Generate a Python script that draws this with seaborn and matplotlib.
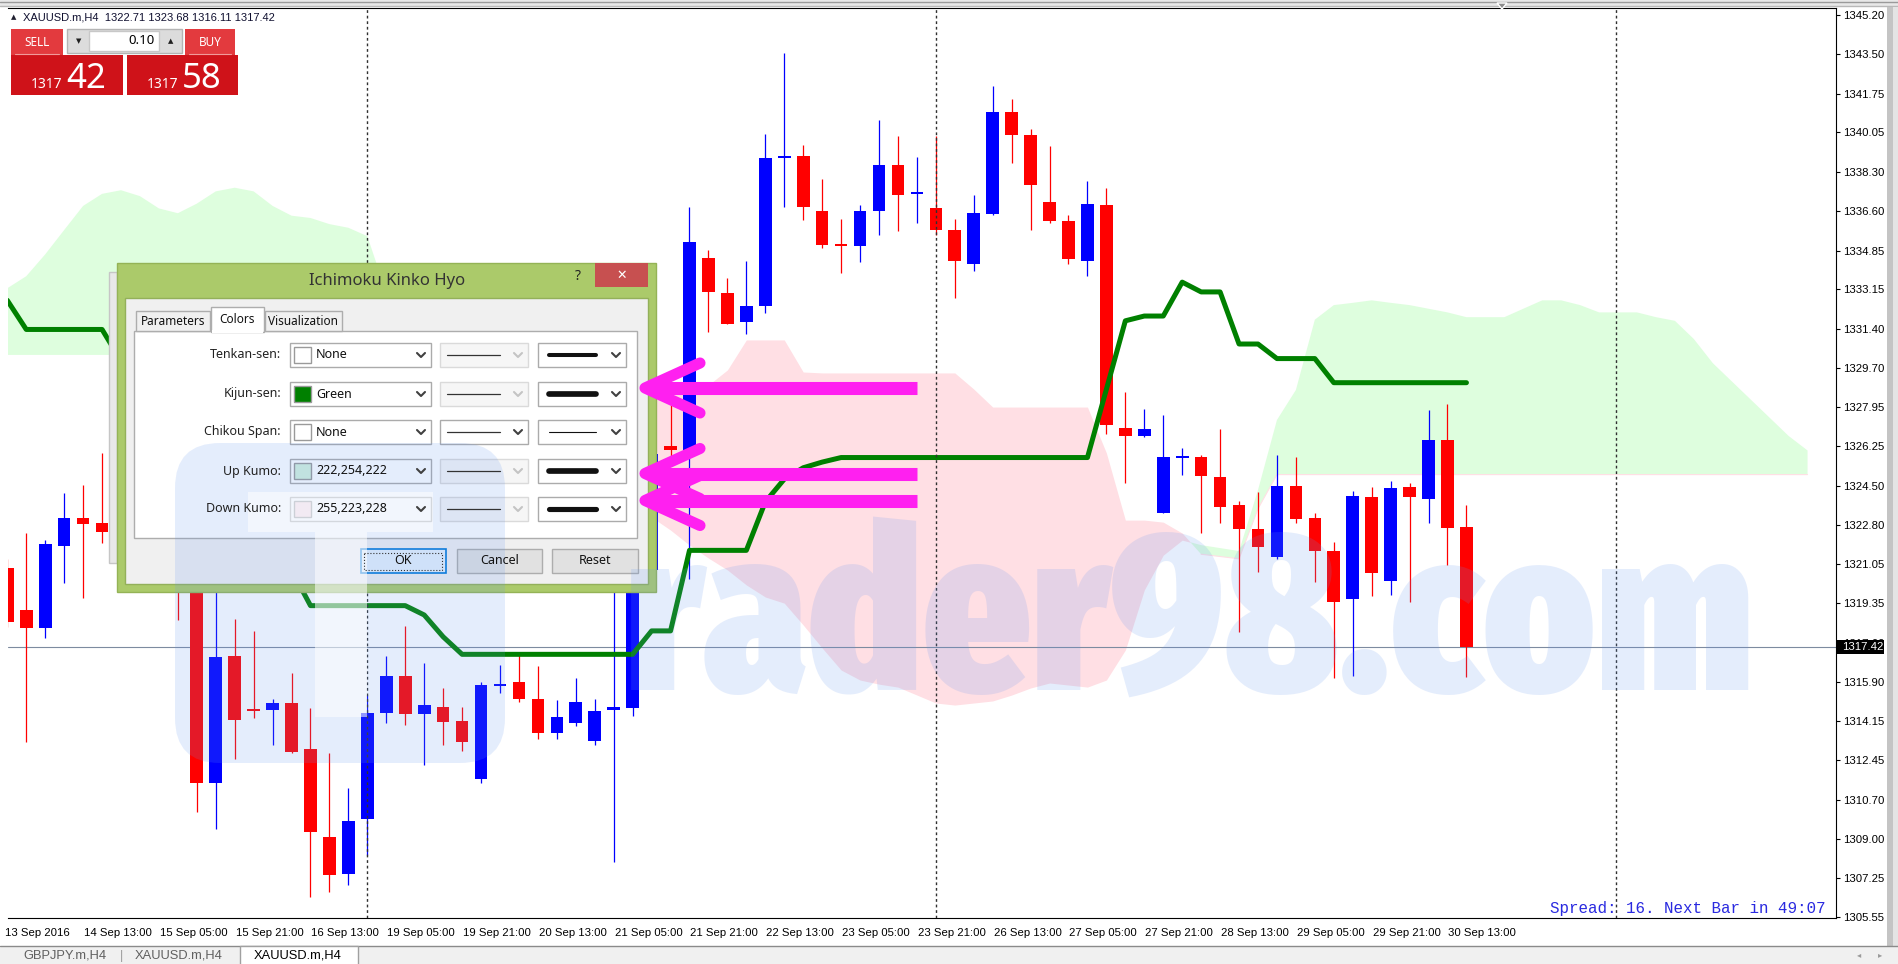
import numpy as np
import pandas as pd
import seaborn as sns
import matplotlib
matplotlib.use("Agg")
from matplotlib import pyplot as plt
from matplotlib import transforms, font_manager
from matplotlib.patches import Rectangle, FancyBboxPatch, Polygon

# XAUUSD.m H4 bars (bar 0 = 13 Sep 2016 21:00)
opens = [1320.91, 1319.03, 1318.27, 1321.86, 1323.09, 1322.89, 1322.49, 1323.30, 1321.90, 1322.70,
         1321.80, 1311.45, 1317.04, 1314.70, 1314.65, 1314.97, 1312.94, 1309.08, 1307.44, 1309.85,
         1314.51, 1316.16, 1314.47, 1314.80, 1314.18, 1311.60, 1315.70, 1315.90, 1315.15, 1313.66,
         1314.09, 1313.29, 1314.65, 1314.73, 1320.80, 1326.25, 1326.10, 1334.54, 1332.98, 1331.69,
         1332.40, 1338.90, 1339.02, 1336.57, 1335.12, 1335.04, 1336.57, 1338.59, 1337.32, 1336.73,
         1335.73, 1334.27, 1336.47, 1340.93, 1339.93, 1336.98, 1336.15, 1334.41, 1336.84, 1327.03,
         1326.70, 1323.32, 1325.72, 1325.79, 1324.91, 1323.65, 1322.62, 1321.39, 1324.50, 1323.10,
         1321.64, 1319.52, 1324.03, 1320.33, 1324.44, 1323.93, 1326.52, 1322.71]
highs = [1321.30, 1322.42, 1322.12, 1324.18, 1324.54, 1325.93, 1324.00, 1324.20, 1323.40, 1323.10,
         1322.30, 1320.30, 1318.65, 1318.14, 1315.12, 1316.26, 1314.72, 1312.75, 1311.21, 1315.31,
         1317.04, 1318.36, 1316.70, 1315.61, 1314.77, 1315.90, 1316.63, 1317.12, 1316.59, 1315.10,
         1316.06, 1315.15, 1320.50, 1321.30, 1326.17, 1328.32, 1336.75, 1334.86, 1333.66, 1334.41,
         1339.97, 1343.53, 1339.47, 1338.00, 1336.24, 1336.87, 1340.57, 1339.89, 1338.95, 1339.87,
         1336.23, 1337.28, 1342.08, 1341.52, 1340.17, 1339.46, 1336.43, 1337.89, 1337.61, 1328.64,
         1327.87, 1327.62, 1326.15, 1325.85, 1326.99, 1323.85, 1324.22, 1325.86, 1325.79, 1323.30,
         1322.05, 1324.29, 1324.44, 1324.72, 1324.64, 1327.84, 1328.10, 1323.68]
lows = [1318.30, 1313.26, 1317.80, 1320.25, 1319.56, 1321.98, 1321.60, 1321.40, 1321.20, 1318.61,
        1310.15, 1309.42, 1312.48, 1314.28, 1313.11, 1312.75, 1306.44, 1306.66, 1306.96, 1308.28,
        1314.07, 1313.99, 1312.23, 1313.11, 1312.86, 1311.45, 1315.41, 1314.99, 1313.40, 1313.40,
        1313.93, 1313.10, 1307.97, 1314.40, 1320.60, 1325.62, 1320.40, 1331.27, 1331.60, 1331.18,
        1332.11, 1336.75, 1336.21, 1334.95, 1333.84, 1334.33, 1335.54, 1335.72, 1336.08, 1335.52,
        1332.76, 1333.95, 1336.43, 1338.71, 1335.77, 1336.07, 1334.25, 1333.71, 1326.79, 1324.62,
        1326.64, 1323.30, 1324.98, 1322.42, 1322.89, 1318.07, 1320.70, 1321.29, 1322.89, 1320.29,
        1316.04, 1316.15, 1319.66, 1319.71, 1319.41, 1322.89, 1321.03, 1316.11]
closes = [1318.52, 1318.27, 1321.95, 1323.09, 1322.81, 1322.49, 1323.30, 1321.90, 1322.70, 1321.80,
          1311.43, 1317.00, 1314.21, 1314.62, 1314.97, 1312.79, 1309.27, 1307.40, 1309.77, 1314.51,
          1316.16, 1314.47, 1314.87, 1314.14, 1313.26, 1315.75, 1315.80, 1315.15, 1313.66, 1314.35,
          1314.99, 1314.62, 1314.80, 1320.80, 1325.90, 1326.10, 1335.22, 1333.02, 1331.63, 1332.40,
          1338.90, 1339.00, 1336.78, 1335.08, 1335.04, 1336.57, 1338.59, 1337.28, 1337.42, 1335.73,
          1334.41, 1336.49, 1340.93, 1339.92, 1337.75, 1336.13, 1334.47, 1336.90, 1327.19, 1326.70,
          1326.99, 1325.79, 1325.80, 1324.94, 1323.59, 1322.59, 1321.80, 1324.50, 1323.05, 1321.64,
          1319.41, 1324.07, 1320.66, 1324.40, 1324.03, 1326.52, 1322.64, 1317.42]

# Kijun-sen, one value per bar
kijun = [1332.66, 1331.38, 1331.38, 1331.38, 1331.38, 1331.38, 1330.00, 1328.60, 1328.60, 1328.60,
         1328.60, 1328.60, 1324.50, 1324.50, 1324.50, 1320.80, 1319.24, 1319.24, 1319.24, 1319.24,
         1319.24, 1319.24, 1318.83, 1317.87, 1317.10, 1317.10, 1317.10, 1317.10, 1317.10, 1317.10,
         1317.10, 1317.10, 1317.10, 1317.10, 1318.13, 1318.13, 1321.67, 1321.67, 1321.67, 1321.67,
         1323.80, 1324.80, 1325.30, 1325.55, 1325.75, 1325.75, 1325.75, 1325.75, 1325.75, 1325.75,
         1325.75, 1325.75, 1325.75, 1325.75, 1325.75, 1325.75, 1325.75, 1325.75, 1328.75, 1331.76,
         1331.97, 1331.97, 1333.46, 1333.03, 1333.03, 1330.74, 1330.74, 1330.10, 1330.10, 1330.10,
         1329.04, 1329.04, 1329.04, 1329.04, 1329.04, 1329.04, 1329.04, 1329.04]

# Senkou span A / B (cloud edges), shifted ahead to bar 95
span_a = [1333.19, 1333.72, 1334.68, 1335.75, 1336.81, 1337.34, 1337.50, 1337.24, 1336.70, 1336.49,
          1336.91, 1337.45, 1337.61, 1337.45, 1336.81, 1336.38, 1336.28, 1336.01, 1335.85, 1335.48,
          1333.00, 1332.50, 1332.00, 1331.50, 1331.00, 1330.50, 1330.00, 1329.50, 1328.50, 1327.50,
          1326.50, 1325.50, 1324.50, 1323.80, 1323.13, 1322.56, 1321.90, 1321.33, 1320.81, 1320.15,
          1319.62, 1319.35, 1318.39, 1317.38, 1316.41, 1315.97, 1315.79, 1315.66, 1315.31, 1314.96,
          1314.87, 1314.96, 1315.05, 1315.31, 1315.62, 1315.84, 1315.75, 1315.66, 1315.97, 1317.29,
          1319.93, 1321.46, 1322.12, 1321.90, 1321.77, 1321.64, 1324.32, 1327.40, 1328.72, 1331.81,
          1332.45, 1332.55, 1332.66, 1332.55, 1332.45, 1332.29, 1332.13, 1331.92, 1331.92, 1331.92,
          1332.29, 1332.66, 1332.66, 1332.45, 1332.13, 1332.13, 1332.13, 1331.92, 1331.76, 1330.96,
          1329.90, 1329.10, 1328.30, 1327.50, 1326.70, 1326.06]
span_b = [1330.26, 1330.26, 1330.26, 1330.26, 1330.26, 1330.26, 1330.26, 1330.26, 1330.26, 1330.26,
          1330.26, 1330.26, 1330.26, 1330.26, 1330.26, 1330.26, 1330.26, 1330.26, 1330.26, 1330.26,
          1330.26, 1330.26, 1330.26, 1330.26, 1330.26, 1330.26, 1328.00, 1328.00, 1328.00, 1328.00,
          1328.00, 1328.00, 1328.00, 1328.00, 1328.28, 1328.50, 1328.72, 1328.94, 1329.60, 1330.92,
          1330.92, 1330.92, 1329.51, 1329.47, 1329.47, 1329.47, 1329.47, 1329.47, 1329.47, 1329.47,
          1329.47, 1328.76, 1327.97, 1327.97, 1327.97, 1327.97, 1327.97, 1327.97, 1325.95, 1323.00,
          1323.00, 1322.91, 1322.43, 1321.50, 1321.40, 1321.30, 1323.50, 1325.00, 1325.00, 1325.00,
          1325.00, 1325.00, 1325.00, 1325.00, 1325.00, 1325.00, 1325.00, 1325.00, 1325.00, 1325.00,
          1325.00, 1325.00, 1325.00, 1325.00, 1325.00, 1325.00, 1325.00, 1325.00, 1325.00, 1325.00,
          1325.00, 1325.00, 1325.00, 1325.00, 1325.00, 1325.00]

time_labels = ["13 Sep 2016", "14 Sep 13:00", "15 Sep 05:00", "15 Sep 21:00", "16 Sep 13:00",
               "19 Sep 05:00", "19 Sep 21:00", "20 Sep 13:00", "21 Sep 05:00", "21 Sep 21:00",
               "22 Sep 13:00", "23 Sep 05:00", "23 Sep 21:00", "26 Sep 13:00", "27 Sep 05:00",
               "27 Sep 21:00", "28 Sep 13:00", "29 Sep 05:00", "29 Sep 21:00", "30 Sep 13:00"]
label_bars = [0, 4, 8, 12, 16, 20, 24, 28, 32, 36, 40, 44, 48, 52, 56, 60, 64, 68, 72, 76]
price_ticks = [1345.20, 1343.50, 1341.75, 1340.05, 1338.30, 1336.60, 1334.85, 1333.15, 1331.40,
               1329.70, 1327.95, 1326.25, 1324.50, 1322.80, 1321.05, 1319.35, 1317.60, 1315.90,
               1314.15, 1312.45, 1310.70, 1309.00, 1307.25, 1305.55]
separators = [19, 49, 84.9]

# dialog rows
row_labels = ["Tenkan-sen:", "Kijun-sen:", "Chikou Span:", "Up Kumo:", "Down Kumo:"]
row_values = ["None", "Green", "None", "222,254,222", "255,223,228"]
row_swatch = ["#ffffff", "#008000", "#ffffff", "#d4f2dd", "#ffdfe4"]
row_style_on = [False, False, True, False, False]
row_width = [2.9, 4.1, 0.8, 4.1, 3.7]

sns.set_style("white")
plt.rcParams["font.family"] = ["Liberation Sans", "DejaVu Sans"]

W, H = 1899, 964
fig = plt.figure(figsize=(W / 100, H / 100), dpi=100)
fig.patch.set_facecolor("white")

# chart area in screen pixels
L, R, T, B = 8, 1836, 8, 918
ax = fig.add_axes([L / W, 1 - B / H, (R - L) / W, (B - T) / H])
ax.set_facecolor("white")

df = pd.DataFrame({"open": opens, "high": highs, "low": lows, "close": closes})
df["bar"] = np.arange(len(df))
colors = np.where(df["close"] >= df["open"], "#0000ff", "#ff0000")

# kumo
a = np.array(span_a)
b = np.array(span_b)
cx = np.arange(len(a))
ax.fill_between(cx, a, b, where=a >= b, interpolate=True, color="#defede", linewidth=0, zorder=1)
ax.fill_between(cx, a, b, where=a < b, interpolate=True, color="#ffdfe4", linewidth=0, zorder=1)
ax.plot(cx[63:], b[63:], color="#ffdfe4", linewidth=0.8, zorder=1)

ax.axhline(closes[-1], color="#7d8ba0", linewidth=0.8, zorder=2)

# candles
ax.vlines(df["bar"], df["low"], df["high"], colors=colors, linewidth=0.9, zorder=3)
body_lo = df[["open", "close"]].min(axis=1)
body_h = (df["close"] - df["open"]).abs().clip(lower=0.05)
ax.bar(df["bar"], body_h, bottom=body_lo, width=0.67, color=colors, linewidth=0, zorder=3)

sns.lineplot(x=np.arange(len(kijun)), y=kijun, ax=ax, color="#008000", linewidth=3.6, zorder=4)

for xv in separators:
    ax.axvline(xv, color="#303030", linewidth=1.0, linestyle=(0, (2, 2)), zorder=4)

ax.set_xlim((L - 7.3) / 18.95, (R - 7.3) / 18.95)
ax.set_ylim(1305.51, 1345.51)
ax.set_xlabel("")
ax.set_ylabel("")

ax.yaxis.tick_right()
ax.set_yticks(price_ticks)
ax.set_yticklabels([f"{v:.2f}" for v in price_ticks])
ax.tick_params(axis="y", length=3, width=0.8, pad=2, labelsize=8.2, colors="#000000")
ax.set_xticks(label_bars[1:])
ax.set_xticklabels([])
ax.tick_params(axis="x", length=3.6, width=0.8, colors="#000000")
for side in ["top", "right", "bottom"]:
    ax.spines[side].set_color("#000000")
    ax.spines[side].set_linewidth(0.8)
ax.spines["left"].set_visible(False)

tr = transforms.blended_transform_factory(ax.transData, ax.transAxes)
for pos, lab in zip(label_bars, time_labels):
    dx = -2.3 if pos == 0 else 1
    off = transforms.ScaledTranslation(dx / 100, 0, fig.dpi_scale_trans)
    ax.text(pos, -15 / (B - T), lab, transform=tr + off, ha="left", va="center",
            fontsize=8.2, color="#000000", clip_on=False)

# ---------- overlay in screen pixels ----------
ov = fig.add_axes([0, 0, 1, 1], zorder=5)
ov.set_xlim(0, W)
ov.set_ylim(H, 0)
ov.set_autoscale_on(False)
ov.axis("off")
ov.patch.set_alpha(0)


def box(x0, y0, x1, y1, fc, ec="none", lw=1.0, z=2, alpha=1.0, ls="-"):
    ov.add_patch(Rectangle((x0, y0), x1 - x0, y1 - y0, facecolor=fc, edgecolor=ec,
                           linewidth=lw, zorder=z, alpha=alpha, linestyle=ls))


def chevron(x, y, color):
    ov.plot([x - 4, x, x + 4], [y - 2, y + 2, y - 2], color=color, lw=1.5,
            solid_capstyle="round", solid_joinstyle="round", zorder=12)


ui = ["Noto Sans", "DejaVu Sans"]

# window chrome
box(0, 0, W, 7, "#e8e8e8")
ov.plot([0, W], [2, 2], color="#9a9a9a", lw=1)
ov.plot([0, W], [6, 6], color="#b8b8b8", lw=1)
box(1887, 7, 1893, 946, "#c4c4c4")
box(1893, 7, W, 946, "#e4e4e4")
box(0, 946, W, H, "#f0f0f0")
ov.plot([0, W], [946, 946], color="#8a8a8a", lw=1)
box(240, 946, 358, H + 2, "#ffffff", "#a0a0a0")
ov.text(65, 955.5, "GBPJPY.m,H4", ha="center", va="center", fontsize=9.3, color="#606060")
ov.text(122, 955.5, "|", ha="center", va="center", fontsize=9, color="#9a9a9a")
ov.text(179, 955.5, "XAUUSD.m,H4", ha="center", va="center", fontsize=9.3, color="#606060")
ov.text(298, 955.5, "XAUUSD.m,H4", ha="center", va="center", fontsize=9.3, color="#000000")
ov.text(1859, 955, "\u25c2", ha="center", va="center", fontsize=6, color="#9a9a9a", family="DejaVu Sans")
ov.text(1880, 955, "\u25b8", ha="center", va="center", fontsize=6, color="#9a9a9a", family="DejaVu Sans")
ov.add_patch(Polygon([(1497, 3), (1507, 3), (1502, 9)], closed=True, facecolor="#8c8c8c", zorder=3))

# current price label on the scale
box(1837, 640, 1884, 654, "#000000", z=6)
ov.text(1842, 647.5, f"{closes[-1]:.2f}", ha="left", va="center", fontsize=8.2, color="white", zorder=7)

# header and one-click trading panel
ov.text(11, 17, "\u25b2", ha="left", va="center", fontsize=5, color="#202030", family="DejaVu Sans")
ov.text(23, 17, "XAUUSD.m,H4  1322.71 1323.68 1316.11 1317.42", ha="left", va="center",
        fontsize=8, color="#101030")
box(11, 29, 63, 55, "#e33a3e")
box(185, 29, 235, 55, "#e33a3e")
box(11, 55, 123, 95, "#cf1219")
box(127, 55, 238, 95, "#cf1219")
ov.plot([15, 59], [54, 54], color="#f19a9a", lw=0.8)
ov.plot([189, 231], [54, 54], color="#f19a9a", lw=0.8)
box(67, 29, 182, 53, "#dcdcdc", "#b4b4b4")
box(89, 31, 159, 51, "#ffffff", "#c8c8c8")
ov.text(78.5, 41, "\u25bc", ha="center", va="center", fontsize=5, color="#202020", family="DejaVu Sans")
ov.text(170.5, 41, "\u25b2", ha="center", va="center", fontsize=5, color="#202020", family="DejaVu Sans")
ov.text(155, 41, "0.10", ha="right", va="center", fontsize=9.5, color="#000000", family=ui)
ov.text(37, 42, "SELL", ha="center", va="center", fontsize=8.5, color="white", family=ui)
ov.text(210, 42, "BUY", ha="center", va="center", fontsize=8.5, color="white", family=ui)
ov.text(31, 88, "1317", ha="left", va="baseline", fontsize=10, color="white", family=ui, weight="semibold")
ov.text(66, 88, "42", ha="left", va="baseline", fontsize=25, color="white", family=ui)
ov.text(147, 88, "1317", ha="left", va="baseline", fontsize=10, color="white", family=ui, weight="semibold")
ov.text(182, 88, "58", ha="left", va="baseline", fontsize=25, color="white", family=ui)

# spread / timer comment
ov.text(1826, 908, "Spread: 16. Next Bar in 49:07", ha="right", va="center", fontsize=11.4,
        color="#2a2ae0", family=["Liberation Mono", "DejaVu Sans Mono"])

# ---------- Ichimoku properties dialog ----------
box(109, 272, 117, 563, "#e8e8e8", "#c6c6c6")
box(117, 263, 656, 592, "#abca6a", "#94b356")
box(125, 298, 648, 584, "#f0f0f0", "#93b05a")
box(595, 263, 648, 287, "#c75050", z=3)
ov.text(621.5, 275, "\u2715", ha="center", va="center", fontsize=9, color="white",
        family="DejaVu Sans", weight="bold", zorder=12)
ov.text(578, 276, "?", ha="center", va="center", fontsize=10, color="#222222", weight="bold",
        family=ui, zorder=12)
ov.text(387, 281, "Ichimoku Kinko Hyo", ha="center", va="center", fontsize=12, color="#333333",
        family=ui, zorder=12)

box(134, 331, 637, 538, "#ffffff", "#adadad")
box(136, 311, 210, 331, "#f0f0f0", "#adadad")
box(265, 311, 342, 331, "#f0f0f0", "#adadad")
box(211, 307, 264, 332, "#ffffff", "#adadad", z=3)
box(212, 330, 263, 333, "#ffffff", z=3)
ov.text(173, 321.5, "Parameters", ha="center", va="center", fontsize=8.5, color="#111111", family=ui, zorder=12)
ov.text(237.5, 319.5, "Colors", ha="center", va="center", fontsize=8.5, color="#111111", family=ui, zorder=12)
ov.text(303.5, 321.5, "Visualization", ha="center", va="center", fontsize=8.5, color="#111111", family=ui, zorder=12)

row_y = [355, 394, 432, 471, 509]
for y, lab, val, sw, on, w in zip(row_y, row_labels, row_values, row_swatch, row_style_on, row_width):
    ov.text(281, y, lab, ha="right", va="center", fontsize=9, color="#222222", family=ui, zorder=12)
    box(290, y - 12, 431, y + 12, "#ffffff", "#ababab")
    box(294, y - 8, 311, y + 8, sw, "#9a9a9a", z=3)
    ov.text(316, y, val, ha="left", va="center", fontsize=9, color="#111111", family=ui, zorder=12)
    chevron(421, y, "#404040")
    box(440, y - 12, 528, y + 12, "#ffffff" if on else "#f6f6f6", "#ababab" if on else "#dadada")
    ov.plot([447, 500], [y, y], color="#333333", lw=0.9, zorder=12)
    chevron(518, y, "#404040" if on else "#c4c4c4")
    box(538, y - 12, 626, y + 12, "#ffffff", "#ababab")
    ov.plot([549, 596], [y, y], color="#111111", lw=w, solid_capstyle="round", zorder=12)
    chevron(616, y, "#404040")

box(361, 549, 446, 573, "#e5f1fb", "#0078d7", lw=1.2)
box(364.5, 552.5, 442.5, 569.5, "none", "#333333", lw=0.8, ls=":", z=12)
box(457, 549, 542, 573, "#e1e1e1", "#adadad")
box(552, 549, 638, 573, "#e1e1e1", "#adadad")
ov.text(403.5, 561, "OK", ha="center", va="center", fontsize=9, color="#111111", family=ui, zorder=12)
ov.text(499.5, 561, "Cancel", ha="center", va="center", fontsize=9, color="#111111", family=ui, zorder=12)
ov.text(595, 561, "Reset", ha="center", va="center", fontsize=9, color="#111111", family=ui, zorder=12)


# ---------- watermark ----------
def condensed_bold():
    best = None
    for f in font_manager.fontManager.ttflist:
        fn = f.fname.lower().replace("-", "").replace("_", "")
        w = f.weight if isinstance(f.weight, (int, float)) else {"bold": 700, "heavy": 800,
                                                                 "black": 900}.get(str(f.weight), 400)
        if w < 600 or "italic" in fn or "oblique" in fn:
            continue
        if "extracondensed" in fn:
            rank = 0
        elif "condensed" in fn or "narrow" in fn:
            rank = 1
        else:
            continue
        if best is None or rank < best[0]:
            best = (rank, f.fname)
    return best[1] if best else None


wm_blue = "#6496f0"
ov.add_patch(FancyBboxPatch((175 + 45, 443 + 45), 330 - 90, 320 - 90, boxstyle="round,pad=45",
                            facecolor=wm_blue, edgecolor="none", alpha=0.17, zorder=10))
box(248, 492, 433, 532, "#ffffff", z=11, alpha=0.55)
box(315, 532, 367, 717, "#ffffff", z=11, alpha=0.55)

cond = condensed_bold()
if cond:
    wm_props = font_manager.FontProperties(fname=cond)
else:
    wm_props = font_manager.FontProperties(family="DejaVu Sans", weight="bold")
wm_props.set_size(100)
wm = ov.text(625, 690, "rader98.com", ha="left", va="baseline", fontproperties=wm_props,
             color=wm_blue, alpha=0.17, zorder=10)
renderer = fig.canvas.get_renderer()
wm_w = wm.get_window_extent(renderer).width
wm.set_fontsize(min(100 * 1131 / wm_w, 240))

# ---------- magenta pointer arrows ----------
mag = "#ff20f0"
for y in [388, 473.5, 500.5]:
    ov.plot([917, 652], [y, y], color=mag, lw=9.4, solid_capstyle="butt", zorder=20)
    ov.plot([700, 645, 700], [y - 25, y, y + 25], color=mag, lw=8,
            solid_capstyle="round", solid_joinstyle="round", zorder=20)

fig.savefig("out.png", dpi=100)
